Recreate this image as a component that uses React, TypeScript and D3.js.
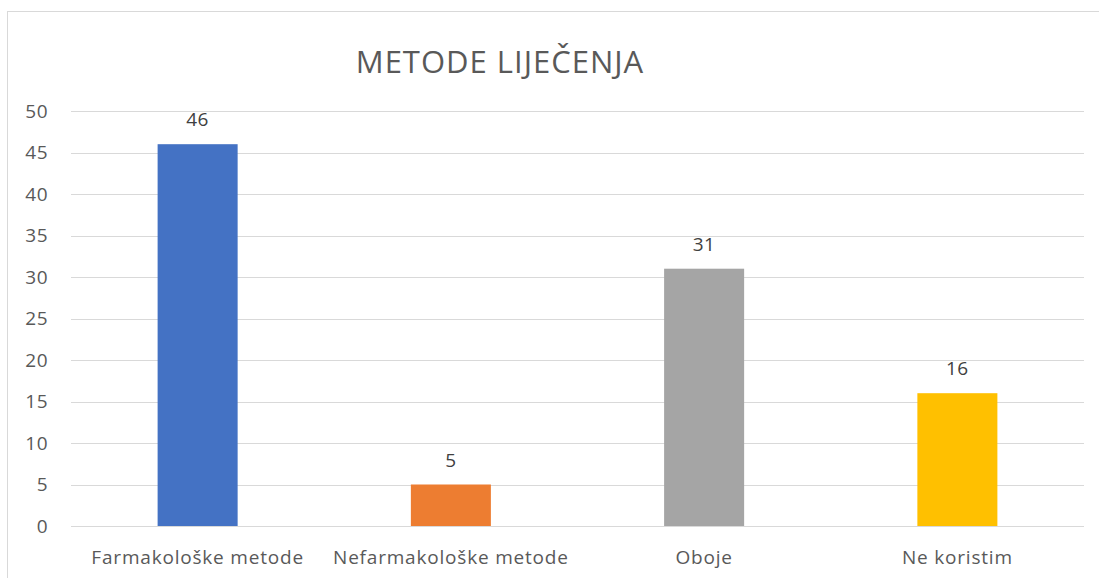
import { useEffect, useRef } from 'react';
import * as d3 from 'd3';

const categories = ['Farmakološke metode', 'Nefarmakološke metode', 'Oboje', 'Ne koristim'];
const values = [46, 5, 31, 16];
const colors = ['#4472c4', '#ed7d31', '#a5a5a5', '#ffc000'];
const yTicks = [0, 5, 10, 15, 20, 25, 30, 35, 40, 45, 50];

const App = () => {
  const ref = useRef<SVGSVGElement | null>(null);

  useEffect(() => {
    document.body.style.margin = '0';
    const width = 1099;
    const height = 578;
    const margin = { top: 111, right: 15, bottom: 52, left: 71 };

    const svg = d3.select(ref.current)
      .attr('width', width)
      .attr('height', height)
      .style('display', 'block')
      .style('background', '#ffffff');
    svg.selectAll('*').remove();

    const font = '"Open Sans", "Segoe UI", sans-serif';

    // chart area border
    svg.append('rect')
      .attr('x', 7.5)
      .attr('y', 11.5)
      .attr('width', width)
      .attr('height', height)
      .attr('fill', 'none')
      .attr('stroke', '#d9d9d9');

    const x = d3.scaleBand()
      .domain(categories)
      .range([margin.left, width - margin.right])
      .paddingInner(0.684)
      .paddingOuter(0.342);

    const y = d3.scaleLinear()
      .domain([0, 50])
      .range([height - margin.bottom, margin.top]);

    // gridlines
    svg.append('g')
      .selectAll('line')
      .data(yTicks)
      .join('line')
      .attr('x1', margin.left)
      .attr('x2', width - margin.right)
      .attr('y1', (d) => Math.round(y(d)) + 0.5)
      .attr('y2', (d) => Math.round(y(d)) + 0.5)
      .attr('stroke', '#d9d9d9')
      .attr('stroke-width', 1);

    // y labels
    svg.append('g')
      .selectAll('text')
      .data(yTicks)
      .join('text')
      .attr('x', 48)
      .attr('y', (d) => y(d))
      .attr('dy', '0.35em')
      .attr('text-anchor', 'end')
      .attr('font-family', font)
      .attr('font-size', 19)
      .attr('letter-spacing', 0.5)
      .attr('fill', '#595959')
      .text((d) => d);

    // bars
    svg.append('g')
      .selectAll('rect')
      .data(values)
      .join('rect')
      .attr('x', (d, i) => x(categories[i]) as number)
      .attr('y', (d) => y(d))
      .attr('width', x.bandwidth())
      .attr('height', (d) => y(0) - y(d))
      .attr('fill', (d, i) => colors[i]);

    // data labels
    svg.append('g')
      .selectAll('text')
      .data(values)
      .join('text')
      .attr('x', (d, i) => (x(categories[i]) as number) + x.bandwidth() / 2)
      .attr('y', (d) => y(d) - 18)
      .attr('text-anchor', 'middle')
      .attr('font-family', font)
      .attr('font-size', 19)
      .attr('letter-spacing', 0.5)
      .attr('fill', '#404040')
      .text((d) => d);

    // category labels
    svg.append('g')
      .selectAll('text')
      .data(categories)
      .join('text')
      .attr('x', (d) => (x(d) as number) + x.bandwidth() / 2)
      .attr('y', 564)
      .attr('text-anchor', 'middle')
      .attr('font-family', font)
      .attr('font-size', 19)
      .attr('letter-spacing', 0.8)
      .attr('fill', '#595959')
      .text((d) => d);

    // title
    svg.append('text')
      .attr('x', 500)
      .attr('y', 73)
      .attr('text-anchor', 'middle')
      .attr('font-family', font)
      .attr('font-size', 31)
      .attr('letter-spacing', 1)
      .attr('fill', '#595959')
      .text('METODE LIJEČENJA');
  }, []);

  return <svg ref={ref}></svg>;
};

export default App;
